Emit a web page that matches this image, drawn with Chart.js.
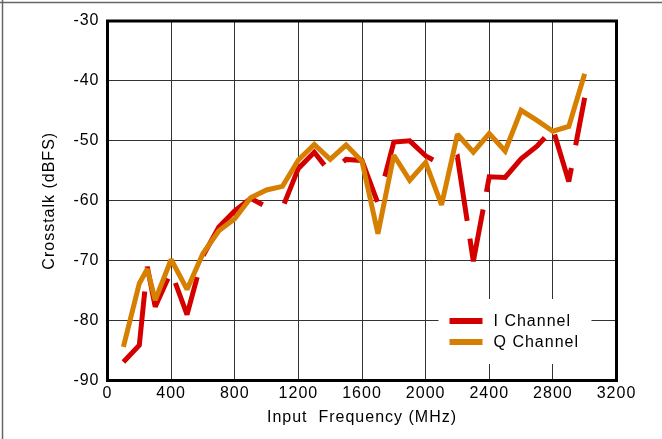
<!DOCTYPE html>
<html>
<head>
<meta charset="utf-8">
<title>Crosstalk vs Input Frequency</title>
<script src="https://cdn.jsdelivr.net/npm/chart.js@4.4.1/dist/chart.umd.min.js"></script>
<style>
html,body{margin:0;padding:0;background:#fff;}
canvas{display:block;}
</style>
</head>
<body>
<canvas id="grafica" width="662" height="439"></canvas>
<script>
// valores (MHz / dBFS)
var frecuencias=[100,200,250,300,400,500,600,700,800,900,1000,1100,1200,1300,1400,1500,1600,1700,1800,1900,2000,2100,2200,2300,2400,2500,2600,2700,2800,2900,3000];
var canalI=[-86.9,-84.1,-71.0,-77.7,-71.8,-79.0,-69.2,-64.4,-61.7,-59.6,-61.0,-61.2,-54.6,-51.9,-55.3,-53.1,-53.3,-60.4,-50.2,-50.0,-52.5,-54.0,-52.7,-70.1,-56.0,-56.1,-53.0,-50.9,-48.0,-56.8,-42.8];
var canalQ=[-84.4,-73.8,-71.4,-76.6,-69.8,-74.8,-68.8,-65.0,-63.0,-59.5,-58.2,-57.6,-53.2,-50.6,-53.1,-50.7,-53.4,-65.5,-52.4,-56.6,-53.6,-60.7,-48.9,-51.9,-48.8,-51.7,-44.9,-46.6,-48.4,-47.6,-38.8];
var ticksX=[0,400,800,1200,1600,2000,2400,2800,3200];
var ticksY=[-90,-80,-70,-60,-50,-40,-30];
var etiquetas=["I Channel","Q Channel"];
var colores=["#d40000","#d67f00"];

// trazo cortado de la linea I (largo de trazo / hueco, en px)
var trazoI=[77,24,73,20,72.5,22.5,89,25,77,26.6,63.4,29,82,26,66,18,75.5,18,87.5,18,63,23,300,10];

var fuente={family:"'Liberation Sans', Arial, sans-serif",size:16};

function puntos(valores){
	var out=[];
	for(var i=0;i<frecuencias.length;i++){
		out.push({x:frecuencias[i],y:valores[i]});
	}
	return out;
}

var marco={
	id:'marco',
	beforeDraw:function(chart){
		var ctx=chart.ctx;
		ctx.letterSpacing='1px';
		ctx.save();
		ctx.fillStyle='#fff';
		ctx.fillRect(0,0,chart.width,chart.height);
		// marco exterior, solo arriba e izquierda
		ctx.strokeStyle='#666';
		ctx.lineWidth=1.5;
		ctx.beginPath();
		ctx.moveTo(0,2.5);ctx.lineTo(chart.width,2.5);
		ctx.moveTo(2.5,0);ctx.lineTo(2.5,chart.height);
		ctx.stroke();
		ctx.restore();
	},
	beforeDatasetsDraw:function(chart){
		var a=chart.chartArea,ctx=chart.ctx;
		ctx.save();
		ctx.strokeStyle='#000';
		ctx.lineWidth=3;
		ctx.strokeRect(a.left,a.top,a.right-a.left,a.bottom-a.top);
		// hueco blanco de la leyenda
		ctx.fillStyle='#fff';
		ctx.fillRect(a.left+331,a.top+278,153,65);
		ctx.restore();
		// picos romos como en el original
		ctx.miterLimit=2;
	},
	afterDatasetsDraw:function(chart){
		var a=chart.chartArea,ctx=chart.ctx;
		ctx.save();
		ctx.font="16px 'Liberation Sans', Arial, sans-serif";
		ctx.textBaseline='middle';
		ctx.textAlign='left';
		ctx.fillStyle='#000';
		for(var i=0;i<etiquetas.length;i++){
			var y=a.top+300+i*21;
			ctx.strokeStyle=colores[i];
			ctx.lineWidth=6;
			ctx.setLineDash([]);
			ctx.beginPath();
			ctx.moveTo(a.left+342,y);ctx.lineTo(a.left+375,y);
			ctx.stroke();
			ctx.fillText(etiquetas[i],a.left+386,y+0.5);
		}
		ctx.restore();
	}
};

Chart.defaults.color='#000';

var grafica=new Chart(document.getElementById('grafica'),{
	type:'line',
	data:{
		datasets:[{
			label:etiquetas[0],
			data:puntos(canalI),
			borderColor:colores[0],
			borderWidth:5,
			borderDash:trazoI,
			borderCapStyle:'butt',
			borderJoinStyle:'miter',
			pointRadius:0,
			fill:false,
			order:1
		},{
			label:etiquetas[1],
			data:puntos(canalQ),
			borderColor:colores[1],
			borderWidth:5,
			borderJoinStyle:'miter',
			pointRadius:0,
			fill:false,
			order:0
		}]
	},
	options:{
		responsive:false,
		animation:false,
		events:[],
		layout:{padding:{top:21,right:45.5,left:0,bottom:0}},
		plugins:{legend:{display:false},tooltip:{enabled:false}},
		scales:{
			x:{
				type:'linear',min:0,max:3200,
				afterFit:function(s){s.height=58.5;},
				afterBuildTicks:function(s){s.ticks=ticksX.map(function(v){return {value:v};});},
				grid:{color:'#333',lineWidth:1,drawTicks:false},
				border:{display:false},
				ticks:{padding:3,font:fuente,color:'#000',maxRotation:0,autoSkip:false,
					callback:function(v){return String(v);}},
				title:{display:true,text:'Input  Frequency (MHz)',font:fuente,color:'#000',padding:{top:0,bottom:12}}
			},
			y:{
				min:-90,max:-30,
				afterFit:function(s){s.width=107.5;},
				afterBuildTicks:function(s){s.ticks=ticksY.map(function(v){return {value:v};});},
				grid:{color:'#333',lineWidth:1,drawTicks:false},
				border:{display:false},
				ticks:{padding:8,font:fuente,color:'#000',autoSkip:false,
					callback:function(v){return String(v);}},
				title:{display:true,text:'Crosstalk (dBFS)',font:fuente,color:'#000',padding:{top:40,bottom:0}}
			}
		}
	},
	plugins:[marco]
});
</script>
</body>
</html>
